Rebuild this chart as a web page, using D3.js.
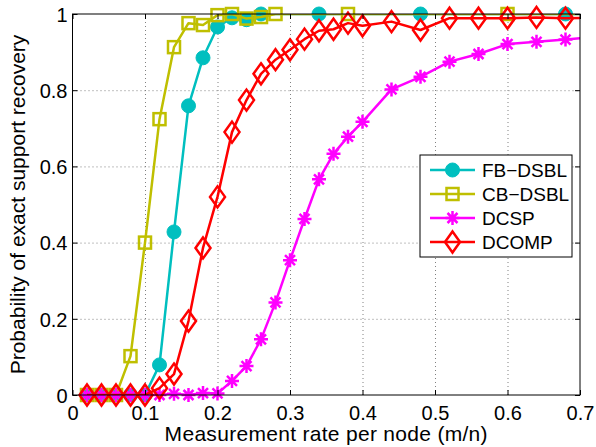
<!DOCTYPE html>
<html>
<head>
<meta charset="utf-8">
<script src="https://cdn.jsdelivr.net/npm/d3@7"></script>
<style>
  html, body { margin: 0; padding: 0; background: #fff; }
  svg { display: block; font-family: "Liberation Sans", Arial, Helvetica, sans-serif; }
</style>
</head>
<body>
<svg id="chart" width="596" height="447"></svg>
<script>
// Measurement rates (m/n) and recovery probabilities per algorithm
const xFB = [0.02, 0.04, 0.06, 0.08, 0.10, 0.12, 0.14, 0.16, 0.18, 0.20, 0.22, 0.24, 0.26, 0.34, 0.48, 0.68, 0.88];
const fbDSBL = [0, 0, 0, 0, 0, 0.079, 0.428, 0.759, 0.885, 0.966, 0.99, 0.985, 1.0, 1.0, 1.0, 1.0, 1.0];

const xCB = [0.02, 0.04, 0.06, 0.08, 0.10, 0.12, 0.14, 0.16, 0.18, 0.20, 0.22, 0.24, 0.26, 0.28, 0.38, 0.60, 0.82];
const cbDSBL = [0, 0, 0, 0.102, 0.40, 0.724, 0.913, 0.976, 0.971, 0.997, 1.0, 0.988, 0.992, 1.0, 1.0, 1.0, 1.0];

const xDC = [0.02, 0.04, 0.06, 0.08, 0.10, 0.12, 0.14, 0.16, 0.18, 0.20, 0.22, 0.24, 0.26, 0.28, 0.30, 0.32, 0.34, 0.36, 0.38, 0.40,
             0.44, 0.48, 0.52, 0.56, 0.60, 0.64, 0.68, 0.72];
const dcsp = [0, 0, 0, 0, 0, 0, 0.003, 0, 0.005, 0.004, 0.037, 0.076, 0.146, 0.243, 0.354, 0.462, 0.566, 0.633, 0.678, 0.717,
              0.802, 0.835, 0.875, 0.895, 0.921, 0.927, 0.933, 0.94];
const dcomp = [0, 0, 0, 0, 0, 0.018, 0.055, 0.194, 0.386, 0.52, 0.69, 0.774, 0.843, 0.88, 0.906, 0.934, 0.956, 0.96, 0.976, 0.969,
               0.98, 0.958, 0.989, 0.989, 0.989, 0.991, 0.989, 0.99];

const seriesNames = ["FB\u2212DSBL", "CB\u2212DSBL", "DCSP", "DCOMP"];
const seriesColors = ["#00bfbf", "#bfbf00", "#ff00ff", "#ff0000"];
const seriesMarkers = ["circle", "square", "asterisk", "diamond"];

const xTicks = [0, 0.1, 0.2, 0.3, 0.4, 0.5, 0.6, 0.7];
const xTickLabels = ["0", "0.1", "0.2", "0.3", "0.4", "0.5", "0.6", "0.7"];
const yTicks = [0, 0.2, 0.4, 0.6, 0.8, 1];
const yTickLabels = ["0", "0.2", "0.4", "0.6", "0.8", "1"];

const xTitle = "Measurement rate per node (m/n)";
const yTitle = "Probability of exact support recovery";

// ---- layout ----
const svg = d3.select("#chart");
const L = 72.5, R = 580, T = 14, B = 395;
const x = d3.scaleLinear().domain([0, 0.7]).range([L, R]);
const y = d3.scaleLinear().domain([0, 1]).range([B, T]);
const tickFont = 20, titleFont = 21, legendFont = 19;

svg.append("defs").append("clipPath").attr("id", "plotClip")
  .append("rect").attr("x", L).attr("y", T).attr("width", R - L).attr("height", B - T);

// dotted grid
const gridStyle = g => {
  g.select(".domain").remove();
  g.selectAll("line").attr("stroke", "#808080").attr("stroke-width", 1).attr("stroke-dasharray", "1,3");
};
svg.append("g").attr("transform", `translate(0,${B})`)
  .call(d3.axisBottom(x).tickValues(xTicks.slice(1, -1)).tickSize(-(B - T)).tickFormat(""))
  .call(gridStyle);
svg.append("g").attr("transform", `translate(${L},0)`)
  .call(d3.axisLeft(y).tickValues(yTicks.slice(1, -1)).tickSize(-(R - L)).tickFormat(""))
  .call(gridStyle);

// series
const series = [
  { xs: xFB, ys: fbDSBL },
  { xs: xCB, ys: cbDSBL },
  { xs: xDC, ys: dcsp },
  { xs: xDC, ys: dcomp }
].map((s, i) => ({
  name: seriesNames[i], color: seriesColors[i], marker: seriesMarkers[i],
  pts: s.xs.map((v, j) => [v, s.ys[j]])
}));

function drawMarker(g, type, color) {
  if (type === "circle") {
    g.append("circle").attr("r", 7).attr("fill", color).attr("stroke", color).attr("stroke-width", 1);
  } else if (type === "square") {
    g.append("rect").attr("x", -6).attr("y", -6).attr("width", 12).attr("height", 12)
      .attr("fill", "none").attr("stroke", color).attr("stroke-width", 2.5);
  } else if (type === "diamond") {
    g.append("path").attr("d", "M0,-10.5L7.5,0L0,10.5L-7.5,0Z")
      .attr("fill", "none").attr("stroke", color).attr("stroke-width", 2.5);
  } else if (type === "asterisk") {
    const a = 7, b = 5;
    g.append("path").attr("d", `M0,${-a}V${a}M${-a},0H${a}M${-b},${-b}L${b},${b}M${-b},${b}L${b},${-b}`)
      .attr("fill", "none").attr("stroke", color).attr("stroke-width", 2.5);
  }
}

const line = d3.line().x(d => x(d[0])).y(d => y(d[1]));
series.forEach(s => {
  const g = svg.append("g");
  g.append("path").datum(s.pts).attr("d", line)
    .attr("fill", "none").attr("stroke", s.color).attr("stroke-width", 2.5)
    .attr("stroke-linejoin", "round").attr("clip-path", "url(#plotClip)");
  g.selectAll("g.m").data(s.pts.filter(d => d[0] <= 0.7)).join("g")
    .attr("class", "m")
    .attr("transform", d => `translate(${x(d[0])},${y(d[1])})`)
    .each(function () { drawMarker(d3.select(this), s.marker, s.color); });
});

// axes box with inward ticks
svg.append("rect").attr("x", L).attr("y", T).attr("width", R - L).attr("height", B - T)
  .attr("fill", "none").attr("stroke", "#000").attr("stroke-width", 1);

const tickStyle = g => {
  g.select(".domain").remove();
  g.selectAll("line").attr("stroke", "#000");
};
const xAxis = svg.append("g").attr("transform", `translate(0,${B})`)
  .call(d3.axisBottom(x).tickValues(xTicks).tickSizeInner(-5).tickSizeOuter(0)
    .tickFormat((d, i) => xTickLabels[i]))
  .call(tickStyle);
xAxis.selectAll("text").attr("y", 24.5).attr("dy", 0)
  .attr("font-size", tickFont).attr("font-family", "Liberation Sans, Arial, sans-serif").attr("fill", "#000");

svg.append("g").attr("transform", `translate(0,${T})`)
  .call(d3.axisTop(x).tickValues(xTicks).tickSizeInner(-5).tickSizeOuter(0).tickFormat(""))
  .call(tickStyle);

const yAxis = svg.append("g").attr("transform", `translate(${L},0)`)
  .call(d3.axisLeft(y).tickValues(yTicks).tickSizeInner(-5).tickSizeOuter(0)
    .tickFormat((d, i) => yTickLabels[i]))
  .call(tickStyle);
yAxis.selectAll("text").attr("x", -5).attr("dy", "0.36em")
  .attr("font-size", tickFont).attr("font-family", "Liberation Sans, Arial, sans-serif").attr("fill", "#000");

svg.append("g").attr("transform", `translate(${R},0)`)
  .call(d3.axisRight(y).tickValues(yTicks).tickSizeInner(-5).tickSizeOuter(0).tickFormat(""))
  .call(tickStyle);

// axis titles
svg.append("text").attr("x", (L + R) / 2).attr("y", 441).attr("text-anchor", "middle")
  .attr("font-size", titleFont).attr("letter-spacing", 0.3).text(xTitle);
svg.append("text").attr("transform", `translate(25,${(T + B) / 2}) rotate(-90)`)
  .attr("text-anchor", "middle").attr("font-size", titleFont).text(yTitle);

// legend
const lg = svg.append("g");
lg.append("rect").attr("x", 420).attr("y", 155).attr("width", 152).attr("height", 102)
  .attr("fill", "#fff").attr("stroke", "#000").attr("stroke-width", 1);
const legendY = [170, 194, 218, 242];
series.forEach((s, i) => {
  const row = lg.append("g").attr("transform", `translate(0,${legendY[i]})`);
  row.append("line").attr("x1", 430).attr("x2", 475).attr("y1", 0).attr("y2", 0)
    .attr("stroke", s.color).attr("stroke-width", 2.5);
  drawMarker(row.append("g").attr("transform", "translate(452.5,0)"), s.marker, s.color);
  row.append("text").attr("x", 482).attr("y", 0).attr("dy", "0.36em")
    .attr("font-size", legendFont).text(s.name);
});
</script>
</body>
</html>
